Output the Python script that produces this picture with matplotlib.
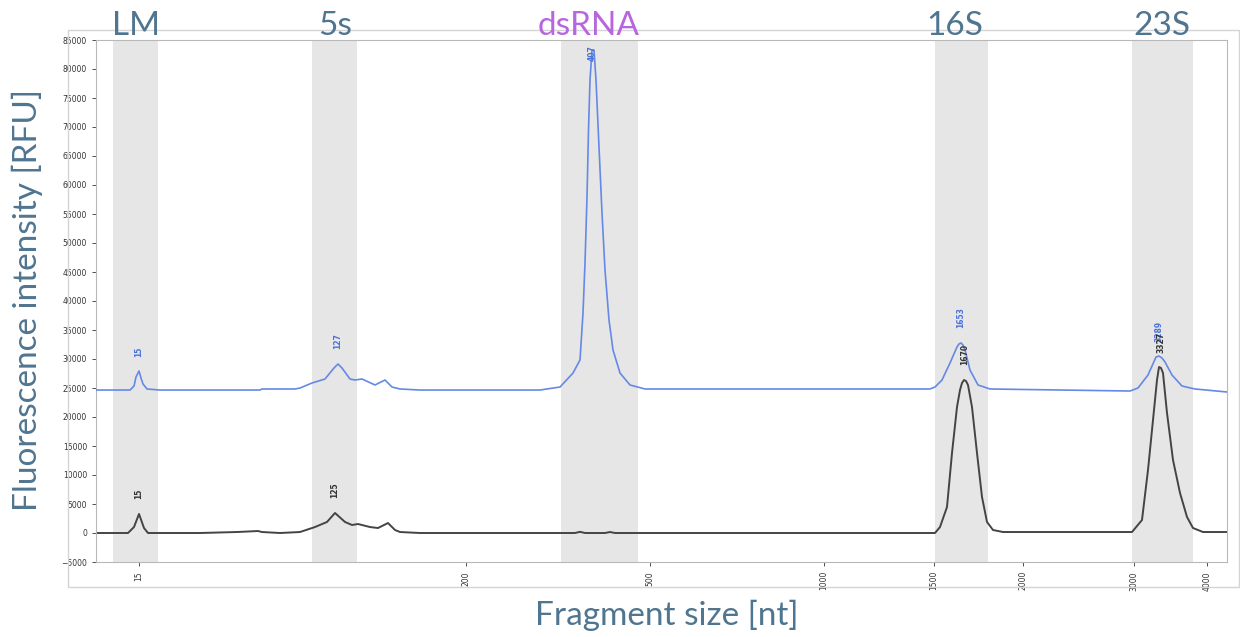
import matplotlib
matplotlib.use("Agg")
import numpy as np
from matplotlib import pyplot as plt
from matplotlib.patches import Rectangle
import matplotlib.transforms as mtransforms

# migration position (arbitrary units along the size axis) and RFU values
blue_pos = [96, 130, 134, 136, 139, 141, 143, 147, 160, 260, 262, 295, 300, 312, 325, 334, 338,
            342, 350, 355, 362, 375, 385, 392, 400, 420, 540, 560, 573, 580, 583, 585, 587,
            588.5, 590, 592, 594, 596, 599, 602, 605, 609, 613, 620, 630, 645, 930, 935, 942,
            950, 957, 959, 961, 963, 965, 970, 978, 990, 1130, 1138, 1148, 1156, 1159, 1162,
            1165, 1172, 1182, 1195, 1227]
blue_rfu = [24650, 24650, 25340, 26900, 27930, 26720, 25690, 24830, 24650, 24650, 24830, 24830,
            25000, 25860, 26550, 28450, 29140, 28450, 26550, 26380, 26550, 25520, 26380, 25170,
            24830, 24650, 24650, 25170, 27580, 29830, 37930, 46550, 57930, 69480, 78100, 83270,
            83270, 78100, 66550, 55170, 45340, 36720, 31550, 27580, 25520, 24830, 24830, 25170,
            26380, 29310, 32070, 32590, 32760, 32410, 31550, 28100, 25520, 24830, 24480, 25000,
            27240, 30340, 30510, 30170, 29480, 27240, 25340, 24830, 24310]

black_pos = [96, 128, 134, 139, 144, 148, 200, 237, 258, 262, 280, 300, 315, 327, 335, 345,
             352, 358, 370, 378, 388, 395, 400, 420, 575, 580, 585, 605, 610, 615, 930, 935,
             940, 947, 952, 957, 960, 962, 964, 966, 968, 972, 977, 982, 987, 993, 1003, 1132,
             1142, 1148, 1153, 1155, 1157, 1159, 1161, 1163, 1167, 1173, 1180, 1187, 1193,
             1203, 1227]
black_rfu = [0, 0, 1030, 3280, 860, 0, 0, 170, 340, 170, 0, 170, 1030, 1900, 3450, 1900,
             1380, 1550, 1030, 860, 1720, 520, 170, 0, 0, 200, 0, 0, 170, 0, 0, 0,
             1030, 4480, 13790, 21720, 24650, 25860, 26380, 26200, 25520, 21720, 13790, 6210,
             1900, 520, 170, 170, 2240, 10860, 19480, 22930, 26380, 28620, 28450, 27580, 20690,
             12590, 6900, 2760, 860, 170, 170]

blue_peaks = [(139, 27930, "15"), (338, 29140, "127"), (592, 83270, "407"),
              (961, 32760, "1653"), (1159, 30510, "3289")]
black_peaks = [(139, 3280, "15"), (335, 3450, "125"), (965, 26380, "1670"),
               (1161, 28620, "3327")]

size_ticks_pos = [139, 466, 650, 824, 934, 1023, 1134, 1207]
size_ticks_lab = ["15", "200", "500", "1000", "1500", "2000", "3000", "4000"]

regions = [("LM", 113, 158, 136), ("5s", 312, 357, 335), ("dsRNA", 561, 638, 589),
           ("16S", 935, 988, 955), ("23S", 1132, 1193, 1162)]

label_col = "#4f7590"
fig = plt.figure(figsize=(12.4, 6.37), dpi=100)
ax = fig.add_axes([96 / 1240, 1 - 562 / 637, (1227 - 96) / 1240, (562 - 40) / 637])

# outer frame of the exported plot
fig.patches.append(Rectangle((68 / 1240, 1 - 587 / 637), (1239 - 68) / 1240, (587 - 30) / 637,
                             transform=fig.transFigure, fill=False, ec="#d4d4d4", lw=1))

for name, x0, x1, xc in regions:
    ax.axvspan(x0, x1, color="#e6e6e6", lw=0, zorder=0)
    trans = mtransforms.blended_transform_factory(ax.transData, fig.transFigure)
    fig.text(xc, 1 - 35 / 637, name, transform=trans, ha="center", va="baseline",
             fontsize=24, family="Lato", color="#b866e0" if name == "dsRNA" else label_col)

ax.plot(blue_pos, blue_rfu, color="#6688e6", lw=1.2, zorder=3)
ax.plot(black_pos, black_rfu, color="#444444", lw=1.4, zorder=2)

for peaks, col in [(blue_peaks, "#4a72d9"), (black_peaks, "#333333")]:
    for x, y, t in peaks:
        ax.text(x, min(y + 2500, 81300), t, rotation=90, ha="center", va="bottom",
                fontsize=5.5, fontweight="bold", color=col, zorder=4)

ax.set_xlim(96, 1227)
ax.set_ylim(-5000, 85000)
ax.set_yticks(np.arange(-5000, 85001, 5000))
ax.set_xticks(size_ticks_pos)
ax.set_xticklabels(size_ticks_lab, rotation=90)
ax.tick_params(labelsize=5.5, length=3, width=0.6, colors="#333333")
for side in ["left", "bottom", "top", "right"]:
    ax.spines[side].set_color("#b8b8b8")
    ax.spines[side].set_linewidth(0.8)

fig.text(27 / 1240, 1 - 300 / 637, "Fluorescence intensity [RFU]", rotation=90, ha="center",
         va="center", fontsize=24, family="Lato", color=label_col)
fig.text(667 / 1240, 1 - 615 / 637, "Fragment size [nt]", ha="center", va="center",
         fontsize=24, family="Lato", color=label_col)

fig.savefig("out.png", dpi=100)
